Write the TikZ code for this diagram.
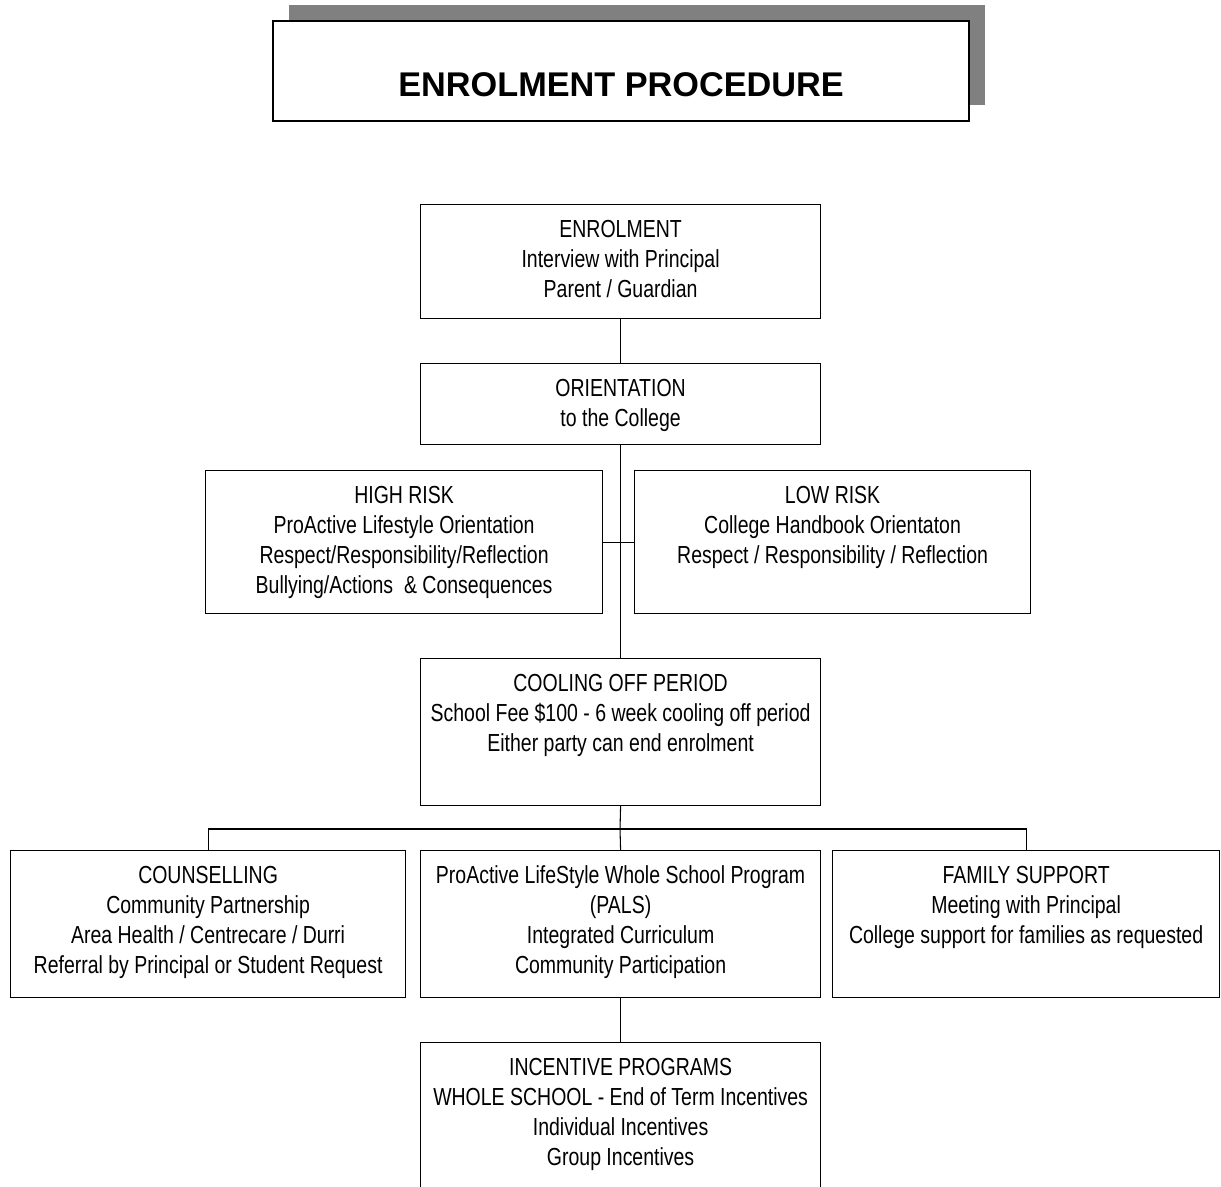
\documentclass[tikz,border=0pt]{standalone}
\usepackage{fontspec}
\setmainfont{Liberation Sans}[FakeStretch=0.79]
\newfontfamily\titlefont{Liberation Sans}
\usetikzlibrary{positioning,calc,shadows}

% one pixel of the page
\newlength\pxu
\setlength\pxu{0.75pt}
% box text: width, height (px), lines set from the top
\newcommand{\boxtext}[4][33]{%
  \parbox[t][#3\pxu][t]{#2\pxu}{\centering\rule{0pt}{#1\pxu}#4}}

\begin{document}
\begin{tikzpicture}[x=0.75pt,y=-0.75pt]

% ---- Styles ----
\tikzset{
  procbox/.style={rectangle, draw, line width=0.9pt, fill=white,
                  inner sep=0pt, anchor=north west,
                  font=\fontsize{18.5}{22.5}\selectfont},
  titlebox/.style={rectangle, draw, line width=1.6pt, fill=white,
                   inner sep=0pt, anchor=north west,
                   general shadow={fill=black!50, shadow xshift=12pt,
                                   shadow yshift=12pt}},
  link/.style={draw, line width=0.8pt},
}

\useasboundingbox (0,0) rectangle (1221,1186);
\clip (0,0) rectangle (1221,1186);

% --- Title ---
\node[titlebox] (title) at (272,20)
  {\boxtext[75]{696}{100}{\titlefont\bfseries\fontsize{25.7}{30}\selectfont ENROLMENT PROCEDURE}};

% --- Main column ---
\node[procbox] (enrol) at (420,204)
  {\boxtext{400}{114}{ENROLMENT\\Interview with Principal\\Parent / Guardian}};
\node[procbox] (orient) at (420,363)
  {\boxtext{400}{81}{ORIENTATION\\to the College}};

% --- Risk boxes ---
\node[procbox] (high) at (205,470)
  {\boxtext{397}{143}{HIGH RISK\\ProActive Lifestyle Orientation\\
   Respect/Responsibility/Reflection\\Bullying/Actions~\ \& Consequences}};
\node[procbox] (low) at (634,470)
  {\boxtext{396}{143}{LOW RISK\\College Handbook Orientaton\\
   Respect / Responsibility / Reflection}};

\node[procbox] (cool) at (420,658)
  {\boxtext{400}{147}{COOLING OFF PERIOD\\School Fee \$100 - 6 week cooling off period\\
   Either party can end enrolment}};

% --- Support row ---
\node[procbox] (couns) at (10,850)
  {\boxtext{395}{147}{COUNSELLING\\Community Partnership\\
   Area Health / Centrecare / Durri\\Referral by Principal or Student Request}};
\node[procbox] (pals) at (420,850)
  {\boxtext{400}{147}{ProActive LifeStyle Whole School Program\\(PALS)\\
   Integrated Curriculum\\Community Participation}};
\node[procbox] (family) at (832,850)
  {\boxtext{387}{147}{FAMILY SUPPORT\\Meeting with Principal\\
   College support for families as requested}};

\node[procbox] (incent) at (420,1042)
  {\boxtext{400}{170}{INCENTIVE PROGRAMS\\WHOLE SCHOOL - End of Term Incentives\\
   Individual Incentives\\Group Incentives}};

% --- Connectors ---
\coordinate (bus) at (620,829);
\draw[link] (enrol.south) -- (orient.north);
\draw[link] (orient.south) -- (cool.north);
\draw[link] (high.east) -- (low.west);
\draw[link] (cool.south) -- (bus) -- (pals.north);
\draw[link] (couns.north) |- (bus) -| (family.north);
\draw[link] (pals.south) -- (incent.north);

\end{tikzpicture}
\end{document}
